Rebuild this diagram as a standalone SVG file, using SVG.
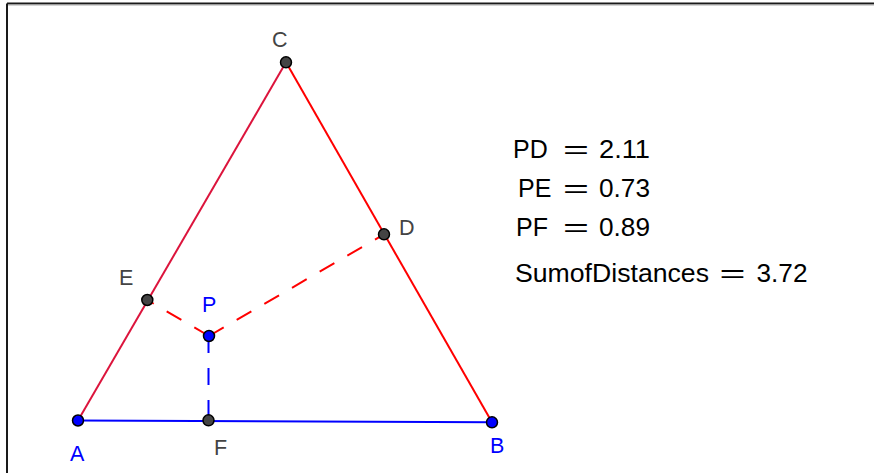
<svg xmlns="http://www.w3.org/2000/svg" width="874" height="473" viewBox="0 0 874 473">
<style>
.lbl{font-family:"Liberation Sans",Arial,sans-serif;font-size:21.5px}
.gray{fill:#444444}
.blue{fill:#0000ff}
.pt{stroke:#000;stroke-width:1.5}
.ptg{fill:#444444}
.ptb{fill:#0000ff}
.eq{font-family:"Liberation Sans",Arial,sans-serif;font-size:25px;fill:#000}
.seg{fill:none;stroke-width:2}
.dash{stroke-dasharray:17 15}
</style>
<rect width="874" height="473" fill="#ffffff"/>
<g id="frame">
<line x1="7" y1="3.5" x2="874" y2="3.5" stroke="#1a1a1a" stroke-width="2"/>
<line x1="7" y1="3.5" x2="7" y2="473" stroke="#1a1a1a" stroke-width="2"/>
<line x1="8" y1="5" x2="874" y2="5" stroke="#aaaaaa" stroke-width="1"/>
</g>
<g id="connectors">
<line class="seg" x1="78" y1="420.5" x2="492" y2="422.3" stroke="#0000ff"/>
<line class="seg" x1="78" y1="420.5" x2="286" y2="62.3" stroke="#dc143c"/>
<line class="seg" x1="286" y1="62.3" x2="492" y2="422.3" stroke="#ff0000"/>
<line class="seg dash" x1="209" y1="336" x2="147.3" y2="300" stroke="#ff0000"/>
<line class="seg dash" x1="209" y1="336" x2="384" y2="234.3" stroke="#ff0000"/>
<line class="seg dash" x1="208.5" y1="336" x2="208.5" y2="420.3" stroke="#0000ff"/>
</g>
<g id="node-A">
<circle class="pt ptb" cx="78" cy="420.5" r="5.5"/>
<text class="lbl blue" x="70" y="461">A</text>
</g>
<g id="node-B">
<circle class="pt ptb" cx="492" cy="422.3" r="5.5"/>
<text class="lbl blue" x="490" y="453">B</text>
</g>
<g id="node-C">
<circle class="pt ptg" cx="286" cy="62.3" r="5.5"/>
<text class="lbl gray" x="272" y="47">C</text>
</g>
<g id="node-D">
<circle class="pt ptg" cx="384" cy="234.3" r="5.5"/>
<text class="lbl gray" x="399" y="235">D</text>
</g>
<g id="node-E">
<circle class="pt ptg" cx="147.3" cy="300" r="5.5"/>
<text class="lbl gray" x="119" y="285">E</text>
</g>
<g id="node-P">
<circle class="pt ptb" cx="209" cy="336" r="5.5"/>
<text class="lbl blue" x="202" y="311.5">P</text>
</g>
<g id="node-F">
<circle class="pt ptg" cx="208.5" cy="420.3" r="5.5"/>
<text class="lbl gray" x="214" y="455">F</text>
</g>
<g id="values">
<text class="eq" y="158.3"><tspan x="513">PD</tspan><tspan x="563" textLength="26" lengthAdjust="spacingAndGlyphs">=</tspan><tspan x="599" textLength="51" lengthAdjust="spacingAndGlyphs">2.11</tspan></text>
<text class="eq" y="196.7"><tspan x="518">PE</tspan><tspan x="563" textLength="26" lengthAdjust="spacingAndGlyphs">=</tspan><tspan x="599" textLength="51" lengthAdjust="spacingAndGlyphs">0.73</tspan></text>
<text class="eq" y="236"><tspan x="516">PF</tspan><tspan x="563" textLength="26" lengthAdjust="spacingAndGlyphs">=</tspan><tspan x="599" textLength="51" lengthAdjust="spacingAndGlyphs">0.89</tspan></text>
<text class="eq" y="281.7"><tspan x="515" textLength="194" lengthAdjust="spacingAndGlyphs">SumofDistances</tspan><tspan x="719.5" textLength="26" lengthAdjust="spacingAndGlyphs">=</tspan><tspan x="756.5" textLength="51" lengthAdjust="spacingAndGlyphs">3.72</tspan></text>
</g>
</svg>
